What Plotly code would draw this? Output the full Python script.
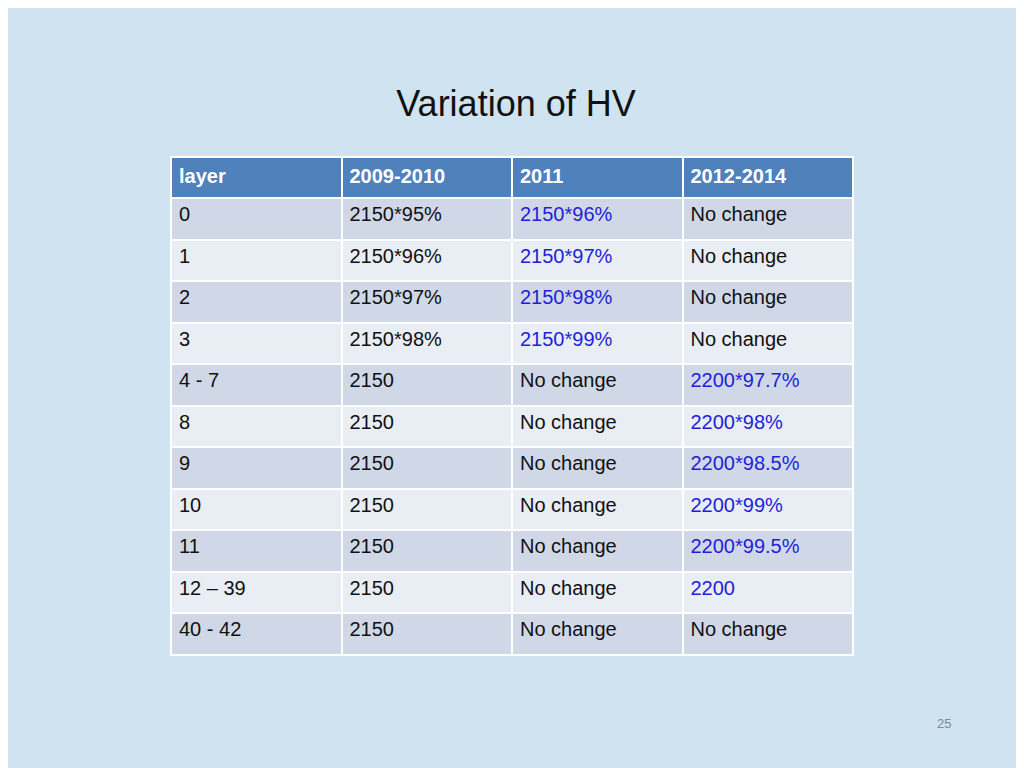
import plotly.graph_objects as go

header = ["layer", "2009-2010", "2011", "2012-2014"]
layers = ["0", "1", "2", "3", "4 - 7", "8", "9", "10", "11", "12 – 39", "40 - 42"]
hv_2009 = ["2150*95%", "2150*96%", "2150*97%", "2150*98%", "2150", "2150", "2150",
           "2150", "2150", "2150", "2150"]
hv_2011 = ["2150*96%", "2150*97%", "2150*98%", "2150*99%", "No change", "No change",
           "No change", "No change", "No change", "No change", "No change"]
hv_2012 = ["No change", "No change", "No change", "No change", "2200*97.7%", "2200*98%",
           "2200*98.5%", "2200*99%", "2200*99.5%", "2200", "No change"]

BLUE = "#1f1fd8"
DARK = "#111111"
row_fill = ["#d0d8e8" if i % 2 == 0 else "#e9edf4" for i in range(len(layers))]

def changed(col):
    return [BLUE if v != "No change" else DARK for v in col]

# page sits 8px in from the window edge, so shift everything by that
fig = go.Figure(go.Table(
    domain=dict(x=[163 / 1024, 845 / 1024], y=[1 - 652 / 768, 1 - 149 / 768]),
    columnwidth=[1, 1, 1, 1],
    header=dict(values=[f"<b>{h}</b>" for h in header],
                fill_color="#4f81bd", line=dict(color="white", width=2),
                font=dict(family="Liberation Sans, Arial", size=20, color="white"),
                align="left", height=41),
    cells=dict(values=[layers, hv_2009, hv_2011, hv_2012],
               fill_color=[row_fill] * 4, line=dict(color="white", width=2),
               font=dict(family="Liberation Sans, Arial", size=20,
                         color=[[DARK] * len(layers), [DARK] * len(layers),
                                changed(hv_2011), changed(hv_2012)]),
               align="left", height=41.5),
))

fig.update_layout(
    width=1024, height=768,
    margin=dict(l=0, r=0, t=0, b=0),
    paper_bgcolor="#cfe3f0",
    title=dict(text="Variation of HV", x=(516 - 8) / 1024, xanchor="center", y=1 - 95 / 768,
               yanchor="middle", font=dict(family="Liberation Sans, Arial", size=36, color="#111111")),
    annotations=[dict(text="25", x=945 / 1024, y=1 - 725 / 768, xref="paper", yref="paper",
                      showarrow=False, font=dict(family="Liberation Sans, Arial", size=13, color="#888888"))],
)

fig.write_html("out.html")
